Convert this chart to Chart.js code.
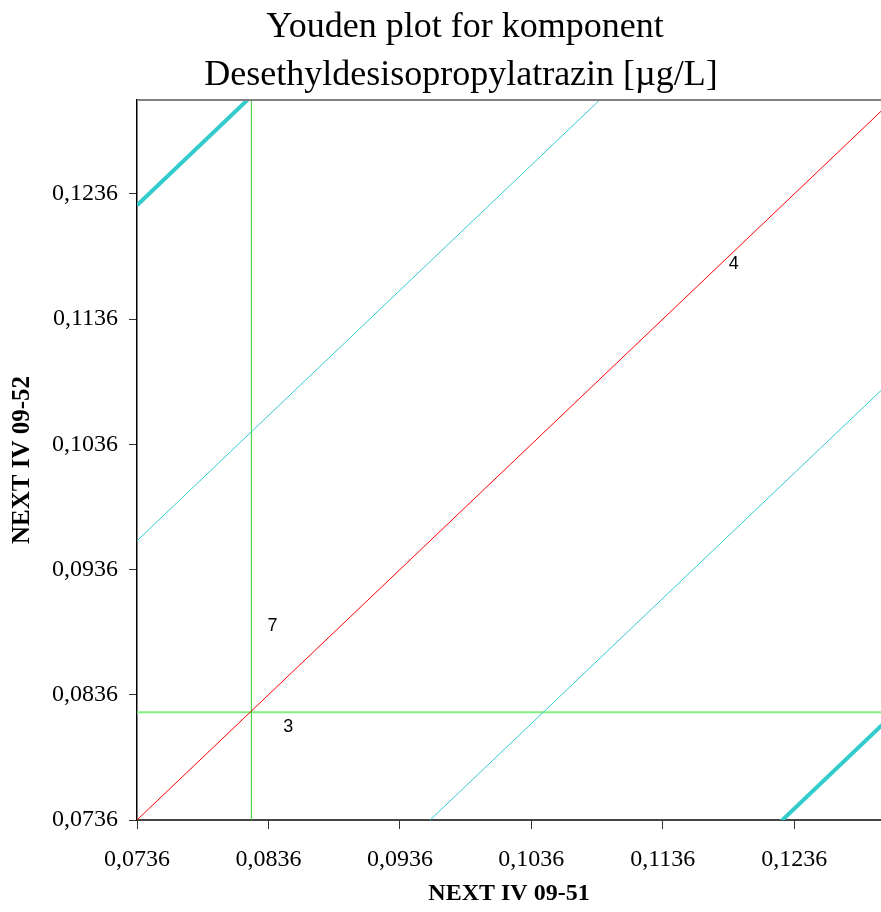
<!DOCTYPE html>
<html>
<head>
<meta charset="utf-8">
<script src="https://cdn.jsdelivr.net/npm/chart.js@4/dist/chart.umd.min.js"></script>
<style>
  body { margin: 0; background: #fff; }
  #wrap { width: 881px; height: 912px; }
</style>
</head>
<body>
<div id="wrap"><canvas id="youden" width="881" height="912"></canvas></div>
<script>
// axis ticks (same for both axes)
const tickValues = [0.0736, 0.0836, 0.0936, 0.1036, 0.1136, 0.1236];
const xMin = 0.0736, xMax = 0.1302;
const yMin = 0.0736, yMax = 0.1311;

// lab results
const labIds = ['3', '4', '7'];
const labX = [0.0851, 0.1190, 0.0839];
const labY = [0.0810, 0.1180, 0.0891];

// medians and limits
const medianX = 0.0823;
const medianY = 0.0822;
const innerLimit = 0.0223;
const outerLimit = 0.0491;

const titleLines = ['Youden plot for komponent', 'Desethyldesisopropylatrazin [\u00b5g/L]'];

function diag(offset) {
  return [{ x: xMin, y: xMin + offset }, { x: yMax + 0.01, y: yMax + 0.01 + offset }];
}

const fmt = v => Number(v).toFixed(4).replace('.', ',');

const titlePlugin = {
  id: 'twoLineTitle',
  afterDraw(chart) {
    const ctx = chart.ctx;
    ctx.save();
    ctx.fillStyle = '#000';
    ctx.font = '36px "Liberation Serif"';
    ctx.textAlign = 'center';
    ctx.textBaseline = 'middle';
    ctx.fillText(titleLines[0], 465, 28);
    ctx.fillText(titleLines[1], 461, 76);
    // top frame line
    const a = chart.chartArea;
    ctx.strokeStyle = '#808080';
    ctx.lineWidth = 2;
    ctx.beginPath();
    ctx.moveTo(a.left, a.top);
    ctx.lineTo(a.right, a.top);
    ctx.stroke();
    ctx.restore();
  }
};

const labelPlugin = {
  id: 'labLabels',
  afterDatasetsDraw(chart) {
    const ctx = chart.ctx;
    const xs = chart.scales.x, ys = chart.scales.y;
    ctx.save();
    ctx.fillStyle = '#000';
    ctx.font = '18px "Liberation Sans"';
    ctx.textAlign = 'center';
    ctx.textBaseline = 'middle';
    labIds.forEach((id, i) => {
      ctx.fillText(id, xs.getPixelForValue(labX[i]), ys.getPixelForValue(labY[i]));
    });
    ctx.restore();
  }
};

const lineDs = (data, color, width) => ({
  data, showLine: true, borderColor: color, borderWidth: width,
  pointRadius: 0, fill: false, clip: 0
});

new Chart(document.getElementById('youden'), {
  type: 'scatter',
  data: {
    datasets: [
      lineDs(diag(0), '#ff0000', 1),
      lineDs(diag(innerLimit), '#33cccc', 1),
      lineDs(diag(-innerLimit), '#33cccc', 1),
      lineDs(diag(outerLimit), '#33cccc', 4),
      lineDs(diag(-outerLimit), '#33cccc', 4),
      lineDs([{ x: medianX, y: yMin }, { x: medianX, y: yMax }], '#33cc33', 1),
      lineDs([{ x: xMin, y: medianY }, { x: xMax, y: medianY }], '#80f080', 2),
      {
        data: labIds.map((id, i) => ({ x: labX[i], y: labY[i] })),
        pointRadius: 0, showLine: false
      }
    ]
  },
  options: {
    responsive: false,
    animation: false,
    layout: { padding: { top: 100, right: 0, left: 0, bottom: 0 } },
    plugins: {
      legend: { display: false },
      tooltip: { enabled: false },
      title: { display: false }
    },
    scales: {
      x: {
        type: 'linear',
        min: xMin, max: xMax,
        afterBuildTicks: s => { s.ticks = tickValues.map(v => ({ value: v })); },
        afterFit: s => { s.height = 92; },
        grid: { drawOnChartArea: false, tickLength: 9, color: '#333' },
        border: { color: '#444', width: 2 },
        ticks: { callback: fmt, color: '#000', padding: 16, maxRotation: 0,
                 font: { family: 'Liberation Serif', size: 24 } },
        title: { display: true, text: 'NEXT IV 09-51', color: '#000',
                 padding: { top: 0, bottom: 4 },
                 font: { family: 'Liberation Serif', size: 24, weight: 'bold' } }
      },
      y: {
        type: 'linear',
        min: yMin, max: yMax,
        afterBuildTicks: s => { s.ticks = tickValues.map(v => ({ value: v })); },
        afterFit: s => { s.width = 137; },
        grid: { drawOnChartArea: false, tickLength: 8, color: '#333' },
        border: { color: '#000', width: 1.5 },
        ticks: { callback: fmt, color: '#000', padding: 11,
                 font: { family: 'Liberation Serif', size: 24 } },
        title: { display: true, text: 'NEXT IV 09-52', color: '#000',
                 padding: { top: 8, bottom: 0 },
                 font: { family: 'Liberation Serif', size: 25, weight: 'bold' } }
      }
    }
  },
  plugins: [titlePlugin, labelPlugin]
});
</script>
</body>
</html>
